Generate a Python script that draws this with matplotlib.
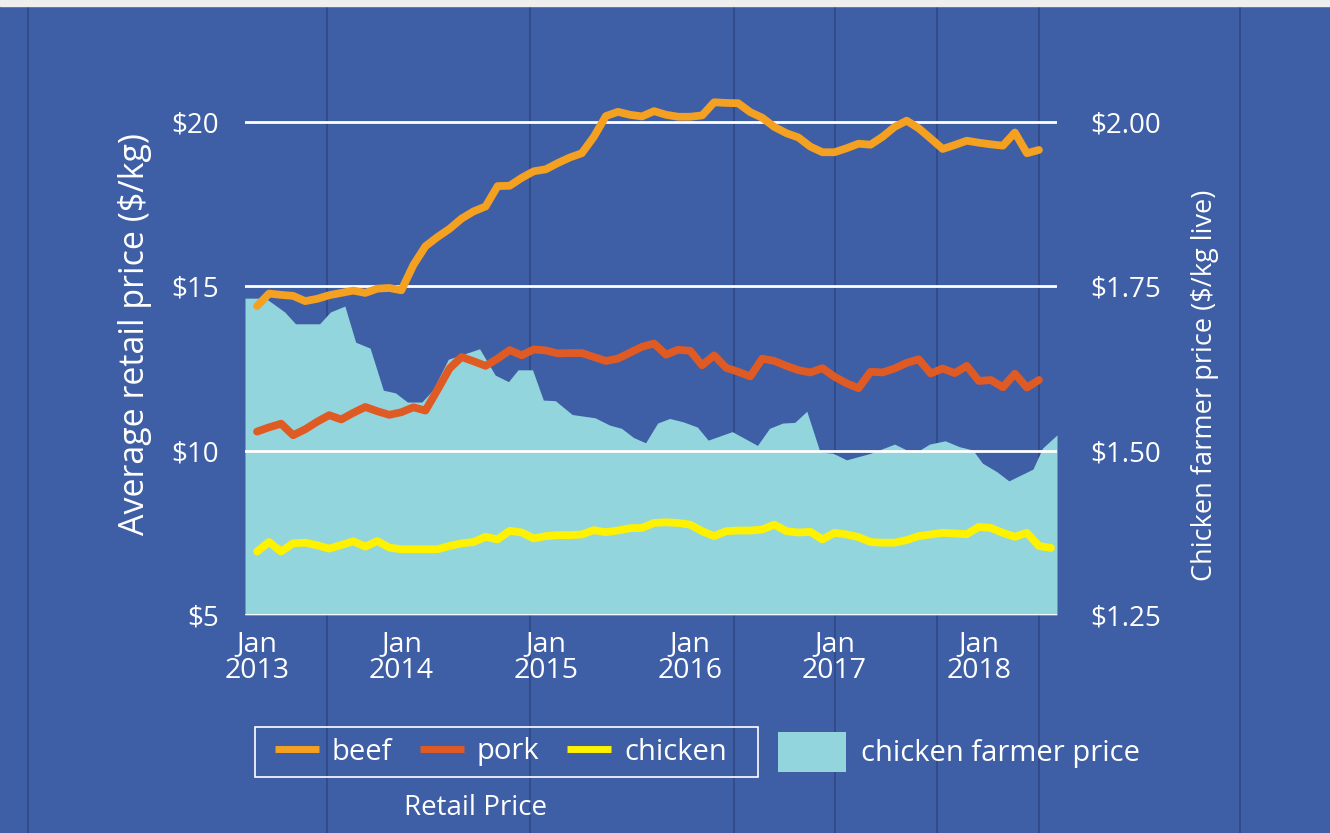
import matplotlib
matplotlib.use("Agg")
import matplotlib.pyplot as plt
from matplotlib.lines import Line2D
from matplotlib.patches import Patch, Rectangle
import numpy as np

# ---------------- data ----------------
# month index: 0 = Jan 2013
beef = [14.40, 14.78, 14.74, 14.71, 14.55, 14.62, 14.73, 14.80, 14.87, 14.80,
        14.93, 14.95, 14.88, 15.65, 16.22, 16.50, 16.75, 17.06, 17.28, 17.43,
        18.05, 18.06, 18.30, 18.50, 18.56, 18.75, 18.92, 19.05, 19.55, 20.18,
        20.31, 20.22, 20.17, 20.33, 20.22, 20.16, 20.16, 20.20, 20.60, 20.58,
        20.57, 20.30, 20.13, 19.85, 19.66, 19.53, 19.25, 19.08, 19.08, 19.20,
        19.34, 19.31, 19.55, 19.85, 20.04, 19.81, 19.50, 19.18, 19.30, 19.43,
        19.37, 19.32, 19.28, 19.68, 19.05, 19.15]
pork = [10.58, 10.71, 10.82, 10.47, 10.65, 10.88, 11.08, 10.95, 11.15, 11.33,
        11.20, 11.09, 11.17, 11.32, 11.22, 11.85, 12.50, 12.85, 12.72, 12.58,
        12.80, 13.06, 12.90, 13.08, 13.05, 12.96, 12.97, 12.97, 12.85, 12.73,
        12.80, 12.98, 13.16, 13.26, 12.92, 13.07, 13.04, 12.60, 12.90, 12.52,
        12.40, 12.26, 12.80, 12.73, 12.58, 12.45, 12.38, 12.51, 12.25, 12.05,
        11.90, 12.40, 12.38, 12.50, 12.67, 12.78, 12.35, 12.50, 12.36, 12.58,
        12.12, 12.15, 11.93, 12.34, 11.92, 12.15]
chicken = [6.93, 7.22, 6.93, 7.18, 7.20, 7.12, 7.02, 7.13, 7.24, 7.08,
           7.25, 7.05, 7.00, 7.00, 7.00, 7.00, 7.10, 7.18, 7.22, 7.38,
           7.30, 7.56, 7.51, 7.33, 7.40, 7.43, 7.43, 7.45, 7.58, 7.52,
           7.57, 7.64, 7.65, 7.80, 7.82, 7.80, 7.75, 7.55, 7.40, 7.55,
           7.57, 7.57, 7.60, 7.75, 7.55, 7.51, 7.53, 7.30, 7.50, 7.45,
           7.37, 7.22, 7.20, 7.20, 7.28, 7.40, 7.45, 7.50, 7.48, 7.46,
           7.68, 7.65, 7.50, 7.38, 7.50, 7.10, 7.04]
farmer_months = [-1.0, 0.7, 2.3, 3.2, 5.2, 6.1, 7.3, 8.2, 9.4, 10.5,
                 11.5, 12.5, 13.7, 14.6, 15.9, 18.5, 19.8, 20.9, 21.7, 22.9,
                 23.8, 24.8, 26.2, 28.1, 29.3, 30.3, 31.3, 32.3, 33.3, 34.3,
                 35.4, 36.6, 37.5, 39.5, 41.6, 42.6, 43.7, 44.7, 45.7, 46.8,
                 47.9, 49.0, 51.0, 53.0, 54.0, 55.1, 55.9, 57.2, 58.4, 59.5,
                 60.3, 61.5, 62.5, 64.5, 65.3, 66.5]
farmer_price = [1.732, 1.732, 1.711, 1.693, 1.693, 1.711, 1.720, 1.665, 1.656, 1.592,
                1.588, 1.574, 1.574, 1.592, 1.639, 1.655, 1.615, 1.605, 1.623, 1.623,
                1.577, 1.576, 1.555, 1.550, 1.539, 1.534, 1.520, 1.512, 1.542, 1.549,
                1.544, 1.536, 1.516, 1.529, 1.508, 1.534, 1.542, 1.543, 1.560, 1.498,
                1.496, 1.486, 1.496, 1.510, 1.501, 1.501, 1.510, 1.515, 1.506, 1.501,
                1.481, 1.468, 1.454, 1.472, 1.504, 1.524]
tick_months = [0, 12, 24, 36, 48, 60]
tick_labels = ["Jan\n2013", "Jan\n2014", "Jan\n2015", "Jan\n2016", "Jan\n2017", "Jan\n2018"]
left_ticks = [5, 10, 15, 20]
left_labels = ["$5", "$10", "$15", "$20"]
right_ticks = [1.25, 1.50, 1.75, 2.00]
right_labels = ["$1.25", "$1.50", "$1.75", "$2.00"]

# ---------------- style ----------------
BG = "#3e5ea6"
AREA = "#93d5dd"
BEEF = "#f4a020"
PORK = "#e05a24"
CHICK = "#fff200"
FONT = ["Open Sans", "DejaVu Sans"]

fig = plt.figure(figsize=(13.3, 8.33), dpi=100, facecolor=BG)

# wood plank seams (background decoration)
for xs in [28, 327, 530, 734, 835, 937, 1039, 1240]:
    fig.add_artist(Line2D([xs / 1330, xs / 1330], [0, 1], transform=fig.transFigure,
                          color="#22345f", lw=1.3, alpha=0.45, zorder=-5))
fig.add_artist(Rectangle((0, 1 - 6 / 833), 1, 6 / 833, transform=fig.transFigure,
                         color="#eeeeee", zorder=-4))

L, R = 245 / 1330, 1057 / 1330
B, T = 1 - 615 / 833, 1 - 72.7 / 833
ax2 = fig.add_axes([L, B, R - L, T - B])
ax1 = ax2.twinx()
ax1.set_zorder(ax2.get_zorder() + 1)
ax1.patch.set_visible(False)
ax2.patch.set_visible(False)

ymin, ymax = 5, 21.5
ax2.fill_between(farmer_months, 1.25, farmer_price, color=AREA, lw=0)
ax2.set_ylim(1.25, 1.25 + (ymax - 5) / 20)
ax2.set_xlim(-1.0, 66.5)

months = np.arange(len(beef))
cm = np.arange(len(chicken))
kw = dict(lw=5.6, solid_joinstyle="round", solid_capstyle="round", clip_on=False)
ax1.plot(cm, chicken, color=CHICK, **kw)
ax1.plot(months, pork, color=PORK, **kw)
ax1.plot(months, beef, color=BEEF, **kw)
ax1.set_ylim(ymin, ymax)
ax1.set_xlim(-1.0, 66.5)

for a in (ax1, ax2):
    for s in a.spines.values():
        s.set_visible(False)
    a.tick_params(length=0)

ax1.yaxis.tick_left()
ax1.set_yticks(left_ticks)
ax1.set_yticklabels(left_labels, fontfamily=FONT, fontsize=20, color="white")
ax1.tick_params(axis="y", pad=19)
ax1.yaxis.grid(True, color="white", lw=2)
ax1.set_axisbelow(True)
ax1.xaxis.set_visible(False)

ax2.yaxis.tick_right()
ax2.set_yticks(right_ticks)
ax2.set_yticklabels(right_labels, fontfamily=FONT, fontsize=20, color="white")
ax2.tick_params(axis="y", pad=24)
ax2.set_xticks(tick_months)
ax2.set_xticklabels(tick_labels, fontfamily=FONT, fontsize=20.5, color="white",
                    linespacing=0.95)
ax2.tick_params(axis="x", pad=11)

fig.text(135 / 1330, 1 - 334 / 833, "Average retail price ($/kg)", rotation=90,
         ha="center", va="center", color="white", fontsize=24.5, fontfamily=FONT)
fig.text(1205 / 1330, 1 - 385 / 833, "Chicken farmer price ($/kg live)", rotation=90,
         ha="center", va="center", color="white", fontsize=19.5, fontfamily=FONT)

# legend for retail prices (box drawn as a frame rectangle)
fig.add_artist(Rectangle((255 / 1330, 1 - 777 / 833), 503 / 1330, 50 / 833,
                         transform=fig.transFigure, fill=False, edgecolor="white",
                         lw=1.2))
handles = [Line2D([], [], color=BEEF, lw=5, solid_capstyle="butt"),
           Line2D([], [], color=PORK, lw=5, solid_capstyle="butt"),
           Line2D([], [], color=CHICK, lw=5, solid_capstyle="butt")]
fig.legend(handles, ["beef", "pork", "chicken"], ncol=3,
           loc="center", bbox_to_anchor=(501 / 1330, 1 - 752 / 833),
           frameon=False, prop={"family": FONT, "size": 21}, labelcolor="white",
           handlelength=1.5, handletextpad=0.45, columnspacing=0.95)
fig.legend([Patch(facecolor=AREA, edgecolor="none")], ["chicken farmer price"],
           loc="center", bbox_to_anchor=(959 / 1330, 1 - 752 / 833),
           frameon=False, prop={"family": FONT, "size": 21}, labelcolor="white",
           handlelength=2.35, handleheight=1.75, handletextpad=0.5)
fig.text(475 / 1330, 1 - 808 / 833, "Retail Price", ha="center", va="center",
         color="white", fontsize=20, fontfamily=FONT)

fig.savefig("out.png", dpi=100, facecolor=BG)
